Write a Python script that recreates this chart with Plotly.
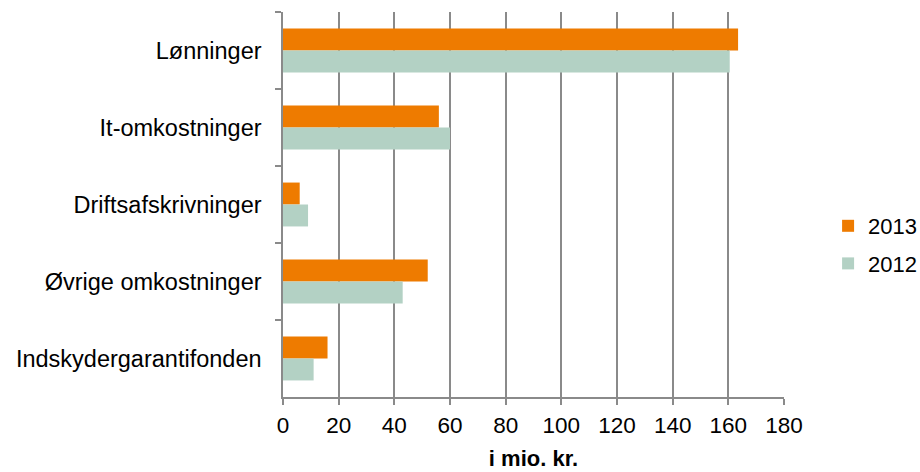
import plotly.graph_objects as go

# Cost categories (top to bottom) and values in mio. kr.
categories = ["Lønninger", "It-omkostninger", "Driftsafskrivninger",
              "Øvrige omkostninger", "Indskydergarantifonden"]
values_2013 = [163.5, 56, 6, 52, 16]
values_2012 = [160.5, 60, 9, 43, 11]
x_ticks = [0, 20, 40, 60, 80, 100, 120, 140, 160, 180]

ORANGE = "#EE7B00"
GREEN = "#B3D1C4"
GRID = "#8A8A8A"
FONT = "Liberation Sans, Arial, sans-serif"

fig = go.Figure()
fig.add_trace(go.Bar(y=categories, x=values_2013, name="2013", orientation="h",
                     marker=dict(color=ORANGE, line=dict(width=0)), legendgroup="a"))
fig.add_trace(go.Bar(y=categories, x=values_2012, name="2012", orientation="h",
                     marker=dict(color=GREEN, line=dict(width=0)), legendgroup="b"))

fig.update_layout(
    width=920, height=472,
    margin=dict(l=283, r=136, t=12, b=75, autoexpand=False),
    paper_bgcolor="white", plot_bgcolor="white",
    barmode="group", bargap=0.43, bargroupgap=0,
    font=dict(family=FONT, size=22, color="#000000"),
    legend=dict(x=1.088, y=(472 - 245 - 75) / 385,
                font=dict(family=FONT, size=22, color="#000000"),
                bgcolor="rgba(0,0,0,0)", xanchor="left", yanchor="middle",
                itemwidth=30, tracegroupgap=6, traceorder="grouped"),
    xaxis=dict(
        range=[0, 180], tickvals=x_ticks, ticktext=[str(v) for v in x_ticks],
        showgrid=True, gridcolor=GRID, gridwidth=1.5,
        showline=True, linecolor=GRID, linewidth=1.5,
        ticks="outside", ticklen=6, tickcolor=GRID, tickwidth=1.5,
        tickfont=dict(family=FONT, size=22.5), ticklabelstandoff=1,
        zeroline=False,
        title=dict(text="<b>i mio. kr.</b>", font=dict(family=FONT, size=22), standoff=14),
    ),
    yaxis=dict(
        autorange="reversed", showgrid=False,
        showline=True, linecolor=GRID, linewidth=1.5,
        ticks="outside", ticklen=6, tickcolor=GRID, tickwidth=1.5,
        tickson="boundaries",
        tickfont=dict(family=FONT, size=23.5), ticklabelstandoff=15,
    ),
)

fig.write_html("out.html")
